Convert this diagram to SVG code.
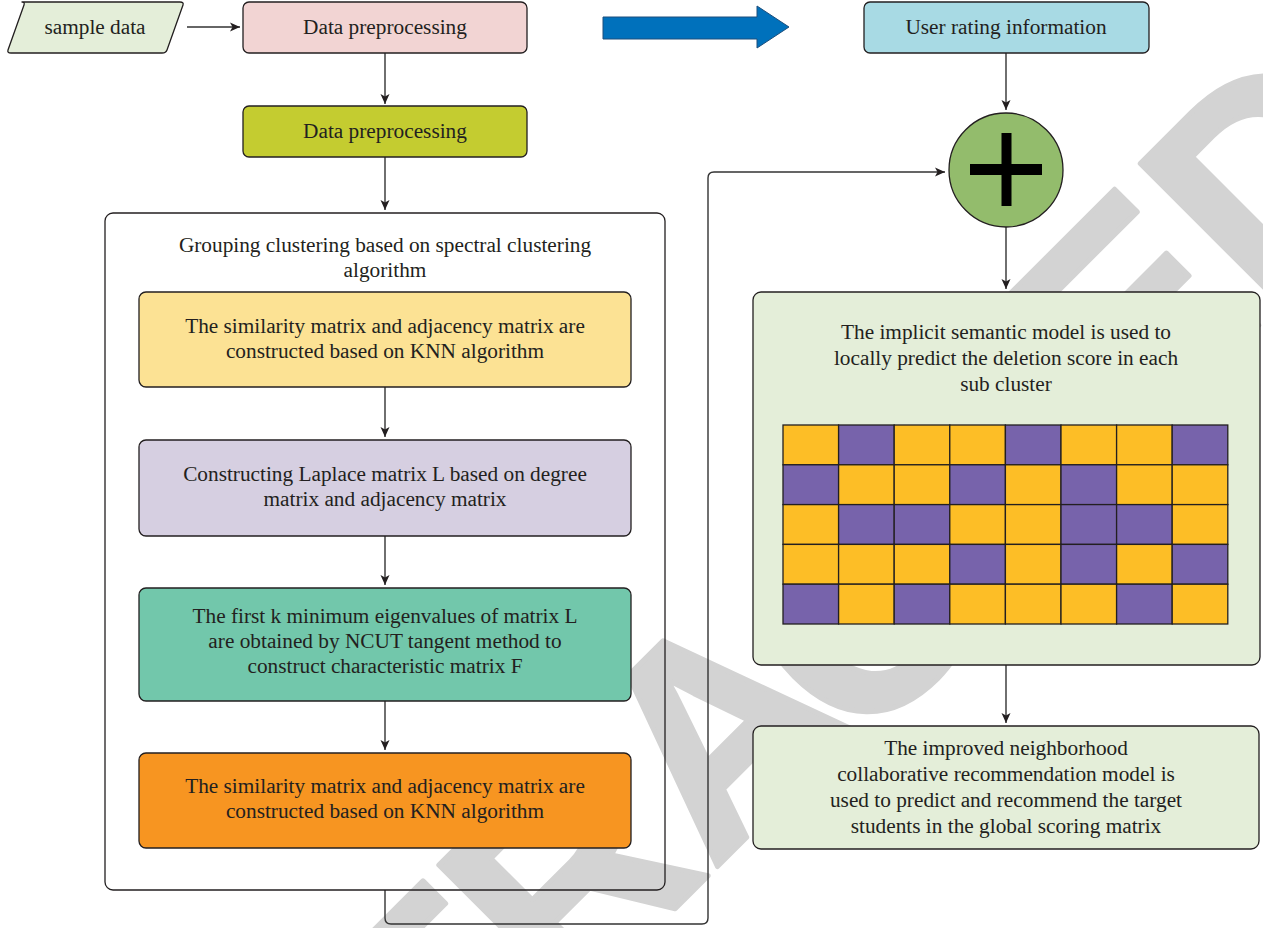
<svg xmlns="http://www.w3.org/2000/svg" width="1263" height="928" viewBox="0 0 1263 928">
<defs>
<marker id="ah" viewBox="0 0 10 10" refX="10" refY="5" markerWidth="10" markerHeight="10" markerUnits="userSpaceOnUse" orient="auto">
<path d="M0,0.5 L10,5 L0,9.5 L2.5,5 Z" fill="#231f20"/>
</marker>
<style>
.t{font-family:"Liberation Serif","Times New Roman",serif;font-size:21.3px;fill:#231f20;text-anchor:middle}
.b{stroke:#231f20;stroke-width:1.3}
.c{fill:none;stroke:#333;stroke-width:1.4;marker-end:url(#ah)}
.y{fill:#fdbe26;stroke:#231f20;stroke-width:1.3}
.p{fill:#7763ab;stroke:#231f20;stroke-width:1.3}
</style>
</defs>
<rect width="1263" height="928" fill="#fff"/>
<g id="watermark">
<text transform="translate(158,1426) rotate(-45)" font-family="Liberation Sans, Arial, sans-serif" font-weight="bold" font-size="288" fill="#d3d3d3" stroke="#d3d3d3" stroke-width="5" stroke-linejoin="round">RETRA<tspan dx="-24" dy="20">C</tspan><tspan dx="24" dy="-20">TED</tspan></text>
</g>
<g id="connectors">
<path class="c" d="M187,27 H240"/>
<path class="c" d="M385,53 V104"/>
<path class="c" d="M385,157 V210"/>
<path class="c" d="M385,387 V437"/>
<path class="c" d="M385,536 V585"/>
<path class="c" d="M385,701 V750"/>
<path class="c" d="M385,890 V918 Q385,924 391,924 H702 Q708,924 708,918 V178 Q708,172 714,172 H945"/>
<path class="c" d="M1006,53 V110"/>
<path class="c" d="M1006,227 V289"/>
<path class="c" d="M1006,665 V723"/>
</g>
<g id="sample-data">
<path d="M22,2 H180 Q184,2 183,5 L167,50 Q166,53 162,53 H11 Q7,53 8,50 L24,5 Q25,2 22,2 Z" fill="#e4eed9" class="b" stroke-linejoin="round"/>
<text class="t" x="95" y="34">sample data</text>
</g>
<g id="preprocessing-1">
<rect x="243" y="2" width="284" height="51" rx="6" fill="#f2d4d3" class="b"/>
<text class="t" x="385" y="34">Data preprocessing</text>
</g>
<g id="preprocessing-2">
<rect x="243" y="106" width="284" height="51" rx="6" fill="#c4cc30" class="b"/>
<text class="t" x="385" y="138">Data preprocessing</text>
</g>
<g id="big-arrow">
<path d="M603,17 H757 V6 L789,27 L757,48 V39 H603 Z" fill="#0071bc" stroke="#1d4f7c" stroke-width="1"/>
</g>
<g id="user-rating">
<rect x="864" y="2" width="285" height="51" rx="6" fill="#a8dae4" class="b"/>
<text class="t" x="1006" y="34">User rating information</text>
</g>
<g id="plus">
<circle cx="1006" cy="170" r="57" fill="#93bc6c" class="b"/>
<rect x="1001.5" y="133" width="10" height="73" fill="#000"/>
<rect x="970" y="164" width="72" height="11" fill="#000"/>
</g>
<g id="spectral-group">
<rect x="105" y="213" width="560" height="677" rx="8" fill="none" class="b"/>
<text class="t" x="385" y="252">Grouping clustering based on spectral clustering</text>
<text class="t" x="385" y="277">algorithm</text>
</g>
<g id="knn-1">
<rect x="139" y="292" width="492" height="95" rx="7" fill="#fce294" class="b"/>
<text class="t" x="385" y="333">The similarity matrix and adjacency matrix are</text>
<text class="t" x="385" y="358">constructed based on KNN algorithm</text>
</g>
<g id="laplace">
<rect x="139" y="440" width="492" height="96" rx="7" fill="#d6cfe1" class="b"/>
<text class="t" x="385" y="481">Constructing Laplace matrix L based on degree</text>
<text class="t" x="385" y="506">matrix and adjacency matrix</text>
</g>
<g id="eigen">
<rect x="139" y="588" width="492" height="113" rx="7" fill="#72c7ab" class="b"/>
<text class="t" x="385" y="623">The first k minimum eigenvalues of matrix L</text>
<text class="t" x="385" y="648">are obtained by NCUT tangent method to</text>
<text class="t" x="385" y="673">construct characteristic matrix F</text>
</g>
<g id="knn-2">
<rect x="139" y="753" width="492" height="95" rx="7" fill="#f79521" class="b"/>
<text class="t" x="385" y="793">The similarity matrix and adjacency matrix are</text>
<text class="t" x="385" y="818">constructed based on KNN algorithm</text>
</g>
<g id="semantic-model">
<rect x="753" y="292" width="507" height="373" rx="8" fill="#e4eed9" class="b"/>
<text class="t" x="1006" y="339">The implicit semantic model is used to</text>
<text class="t" x="1006" y="365">locally predict the deletion score in each</text>
<text class="t" x="1006" y="391">sub cluster</text>
<g id="matrix">
<rect class="y" x="783" y="425" width="55.6" height="39.8"/><rect class="p" x="838.6" y="425" width="55.6" height="39.8"/><rect class="y" x="894.2" y="425" width="55.6" height="39.8"/><rect class="y" x="949.8" y="425" width="55.6" height="39.8"/><rect class="p" x="1005.4" y="425" width="55.6" height="39.8"/><rect class="y" x="1061" y="425" width="55.6" height="39.8"/><rect class="y" x="1116.6" y="425" width="55.6" height="39.8"/><rect class="p" x="1172.2" y="425" width="55.6" height="39.8"/>
<rect class="p" x="783" y="464.8" width="55.6" height="39.8"/><rect class="y" x="838.6" y="464.8" width="55.6" height="39.8"/><rect class="y" x="894.2" y="464.8" width="55.6" height="39.8"/><rect class="p" x="949.8" y="464.8" width="55.6" height="39.8"/><rect class="y" x="1005.4" y="464.8" width="55.6" height="39.8"/><rect class="p" x="1061" y="464.8" width="55.6" height="39.8"/><rect class="y" x="1116.6" y="464.8" width="55.6" height="39.8"/><rect class="y" x="1172.2" y="464.8" width="55.6" height="39.8"/>
<rect class="y" x="783" y="504.6" width="55.6" height="39.8"/><rect class="p" x="838.6" y="504.6" width="55.6" height="39.8"/><rect class="p" x="894.2" y="504.6" width="55.6" height="39.8"/><rect class="y" x="949.8" y="504.6" width="55.6" height="39.8"/><rect class="y" x="1005.4" y="504.6" width="55.6" height="39.8"/><rect class="p" x="1061" y="504.6" width="55.6" height="39.8"/><rect class="p" x="1116.6" y="504.6" width="55.6" height="39.8"/><rect class="y" x="1172.2" y="504.6" width="55.6" height="39.8"/>
<rect class="y" x="783" y="544.4" width="55.6" height="39.8"/><rect class="y" x="838.6" y="544.4" width="55.6" height="39.8"/><rect class="y" x="894.2" y="544.4" width="55.6" height="39.8"/><rect class="p" x="949.8" y="544.4" width="55.6" height="39.8"/><rect class="y" x="1005.4" y="544.4" width="55.6" height="39.8"/><rect class="p" x="1061" y="544.4" width="55.6" height="39.8"/><rect class="y" x="1116.6" y="544.4" width="55.6" height="39.8"/><rect class="p" x="1172.2" y="544.4" width="55.6" height="39.8"/>
<rect class="p" x="783" y="584.2" width="55.6" height="39.8"/><rect class="y" x="838.6" y="584.2" width="55.6" height="39.8"/><rect class="p" x="894.2" y="584.2" width="55.6" height="39.8"/><rect class="y" x="949.8" y="584.2" width="55.6" height="39.8"/><rect class="y" x="1005.4" y="584.2" width="55.6" height="39.8"/><rect class="y" x="1061" y="584.2" width="55.6" height="39.8"/><rect class="p" x="1116.6" y="584.2" width="55.6" height="39.8"/><rect class="y" x="1172.2" y="584.2" width="55.6" height="39.8"/>
</g>
</g>
<g id="recommendation">
<rect x="753" y="726" width="506" height="123" rx="8" fill="#e4eed9" class="b"/>
<text class="t" x="1006" y="755">The improved neighborhood</text>
<text class="t" x="1006" y="781">collaborative recommendation model is</text>
<text class="t" x="1006" y="807">used to predict and recommend the target</text>
<text class="t" x="1006" y="833">students in the global scoring matrix</text>
</g>
</svg>
